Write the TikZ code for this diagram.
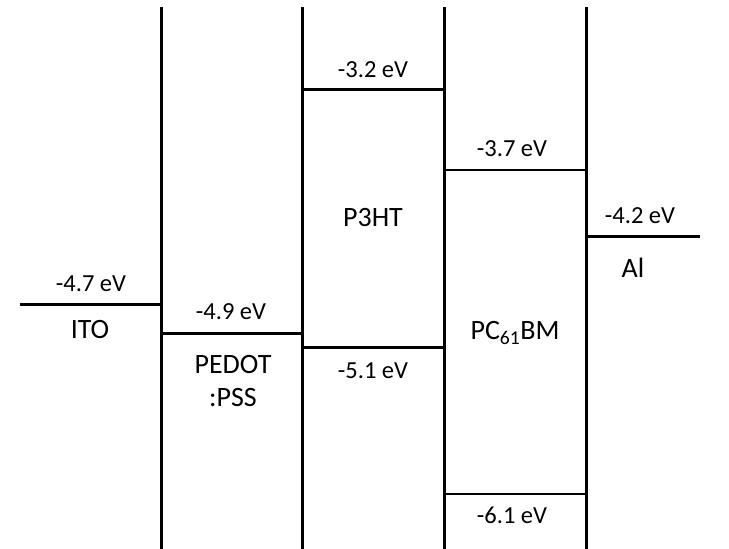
\documentclass[tikz,border=0pt]{standalone}
\usepackage{fontspec}
\setmainfont{Carlito}
\begin{document}
\begin{tikzpicture}[x=1pt,y=-1pt,
  lvl/.style={line width=3pt},
  lvlthin/.style={line width=2pt},
  wall/.style={line width=3pt},
  elab/.style={inner sep=0pt,font=\fontsize{24.5}{28}\selectfont},
  mname/.style={inner sep=0pt,font=\fontsize{28}{33}\selectfont,align=center}]
\useasboundingbox (0,0) rectangle (729,549);
% walls
\foreach \x in {161,302,444,586} \draw[wall] (\x,7) -- (\x,549);
% levels
\draw[lvl] (20,304) -- (161,304);
\draw[lvl] (161,333) -- (302,333);
\draw[lvl] (302,89) -- (444,89);
\draw[lvl] (302,347) -- (444,347);
\draw[lvlthin] (444,170) -- (586,170);
\draw[lvlthin] (444,494) -- (586,494);
\draw[lvl] (586,236) -- (700,236);
% labels
\node[elab] (l1) at (91,284) {-4.7 eV};
\node[mname] (n1) at (90,330) {ITO};
\node[elab] (l2) at (231,312) {-4.9 eV};
\node[mname] (n2) at (233,381) {PEDOT\\:PSS};
\node[elab] (l3) at (373,70) {-3.2 eV};
\node[mname] (n3) at (373,218) {P3HT};
\node[elab] (l4) at (373,371) {-5.1 eV};
\node[elab] (l5) at (512,149) {-3.7 eV};
\node[mname] (n4) at (515,333) {PC\textsubscript{61}BM};
\node[elab] (l6) at (512,515) {-6.1 eV};
\node[elab] (l7) at (640,216) {-4.2 eV};
\node[mname] (n5) at (633,268) {Al};
\end{tikzpicture}
\end{document}
